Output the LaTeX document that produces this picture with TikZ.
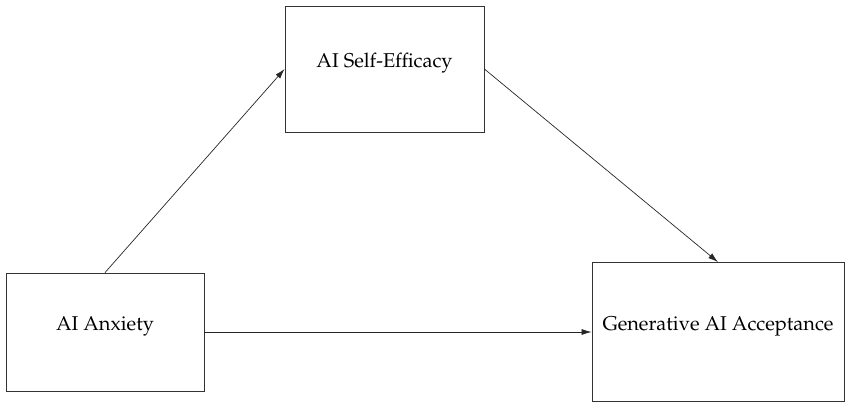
\documentclass[tikz,border=0pt]{standalone}
\usepackage[T1]{fontenc}
\usepackage{mathpazo}
\usepackage{tikz}
\usetikzlibrary{arrows.meta}
\begin{document}
\begin{tikzpicture}[x=1pt,y=-1pt,
every node/.style={draw=black!80,line width=0.8pt,rectangle,
	font=\fontsize{20}{24}\selectfont,text height=14pt,text depth=16.2pt},
path/.style={draw=black!85,line width=0.7pt,-{Latex[length=10pt,width=6pt]}}]
\useasboundingbox (0,0) rectangle (850,409);
%boxes of the model
\node[minimum width=199pt,minimum height=126pt](eff) at (384.5,69) {AI Self-Efficacy};
\node[minimum width=198pt,minimum height=118pt](anx) at (105,332) {AI Anxiety};
\node[minimum width=252pt,minimum height=139pt](acc) at (718,332) {Generative AI Acceptance};

%paths between them
\draw[path] (anx.north) -- (eff.west);
\draw[path] (eff.east) -- (acc.north);
\draw[path] (anx.east) -- (acc.west);
\end{tikzpicture}
\end{document}
